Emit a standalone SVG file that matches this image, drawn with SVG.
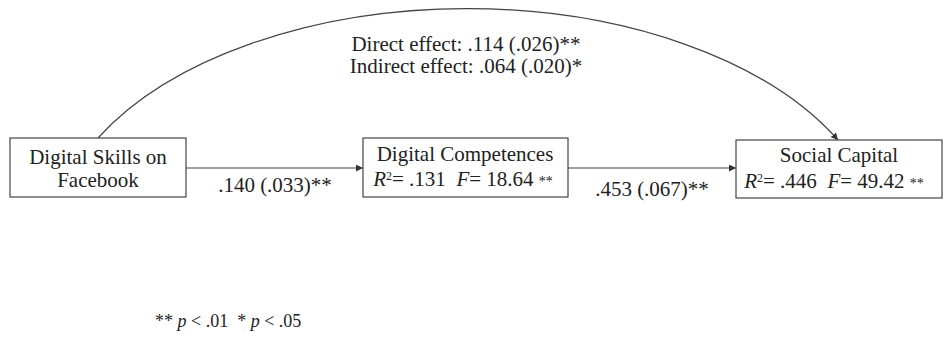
<svg xmlns="http://www.w3.org/2000/svg" width="948" height="350" viewBox="0 0 948 350">
<style>
text{font-family:"Liberation Serif","Times New Roman",serif;fill:#222;font-size:21px}
.box{fill:#fff;stroke:#444;stroke-width:1.2}
.edge{fill:none;stroke:#444;stroke-width:1.2}
.i{font-style:italic}
.lab{text-anchor:middle}
.sm{font-size:14px}
.sup{font-size:12px}
</style>
<defs>
<marker id="ah" viewBox="0 0 10 10" refX="10" refY="5" markerWidth="7" markerHeight="7" markerUnits="userSpaceOnUse" orient="auto">
<path d="M0,0 L10,5 L0,10 z" fill="#333"/>
</marker>
</defs>
<rect width="948" height="350" fill="#fff"/>
<g id="connectors">
<path class="edge" d="M98,138 A417,242 0 0,1 838,140" marker-end="url(#ah)"/>
<line class="edge" x1="186" y1="168" x2="363" y2="168" marker-end="url(#ah)"/>
<line class="edge" x1="568" y1="168" x2="736" y2="168" marker-end="url(#ah)"/>
<text class="lab" x="466" y="51">Direct effect: .114 (.026)**</text>
<text class="lab" x="466" y="73">Indirect effect: .064 (.020)*</text>
<text class="lab" x="275" y="192">.140 (.033)**</text>
<text class="lab" x="652" y="196">.453 (.067)**</text>
</g>
<g id="node-skills">
<rect class="box" x="10" y="138" width="176" height="59"/>
<text class="lab" x="98" y="164">Digital Skills on</text>
<text class="lab" x="98" y="187">Facebook</text>
</g>
<g id="node-competences">
<rect class="box" x="363" y="138" width="205" height="59"/>
<text class="lab" x="465" y="161">Digital Competences</text>
<text class="lab" x="463" y="186" xml:space="preserve"><tspan class="i">R</tspan><tspan class="sup" dy="-6">2</tspan><tspan dy="6">= .131  </tspan><tspan class="i">F</tspan><tspan>= 18.64 </tspan><tspan class="sm">**</tspan></text>
</g>
<g id="node-capital">
<rect class="box" x="736" y="140" width="206" height="58"/>
<text class="lab" x="839" y="162">Social Capital</text>
<text class="lab" x="834" y="188" xml:space="preserve"><tspan class="i">R</tspan><tspan class="sup" dy="-6">2</tspan><tspan dy="6">= .446  </tspan><tspan class="i">F</tspan><tspan>= 49.42 </tspan><tspan class="sm">**</tspan></text>
</g>
<text x="155" y="327" xml:space="preserve" style="font-size:18px">** <tspan class="i">p</tspan> &lt; .01  * <tspan class="i">p</tspan> &lt; .05</text>
</svg>
